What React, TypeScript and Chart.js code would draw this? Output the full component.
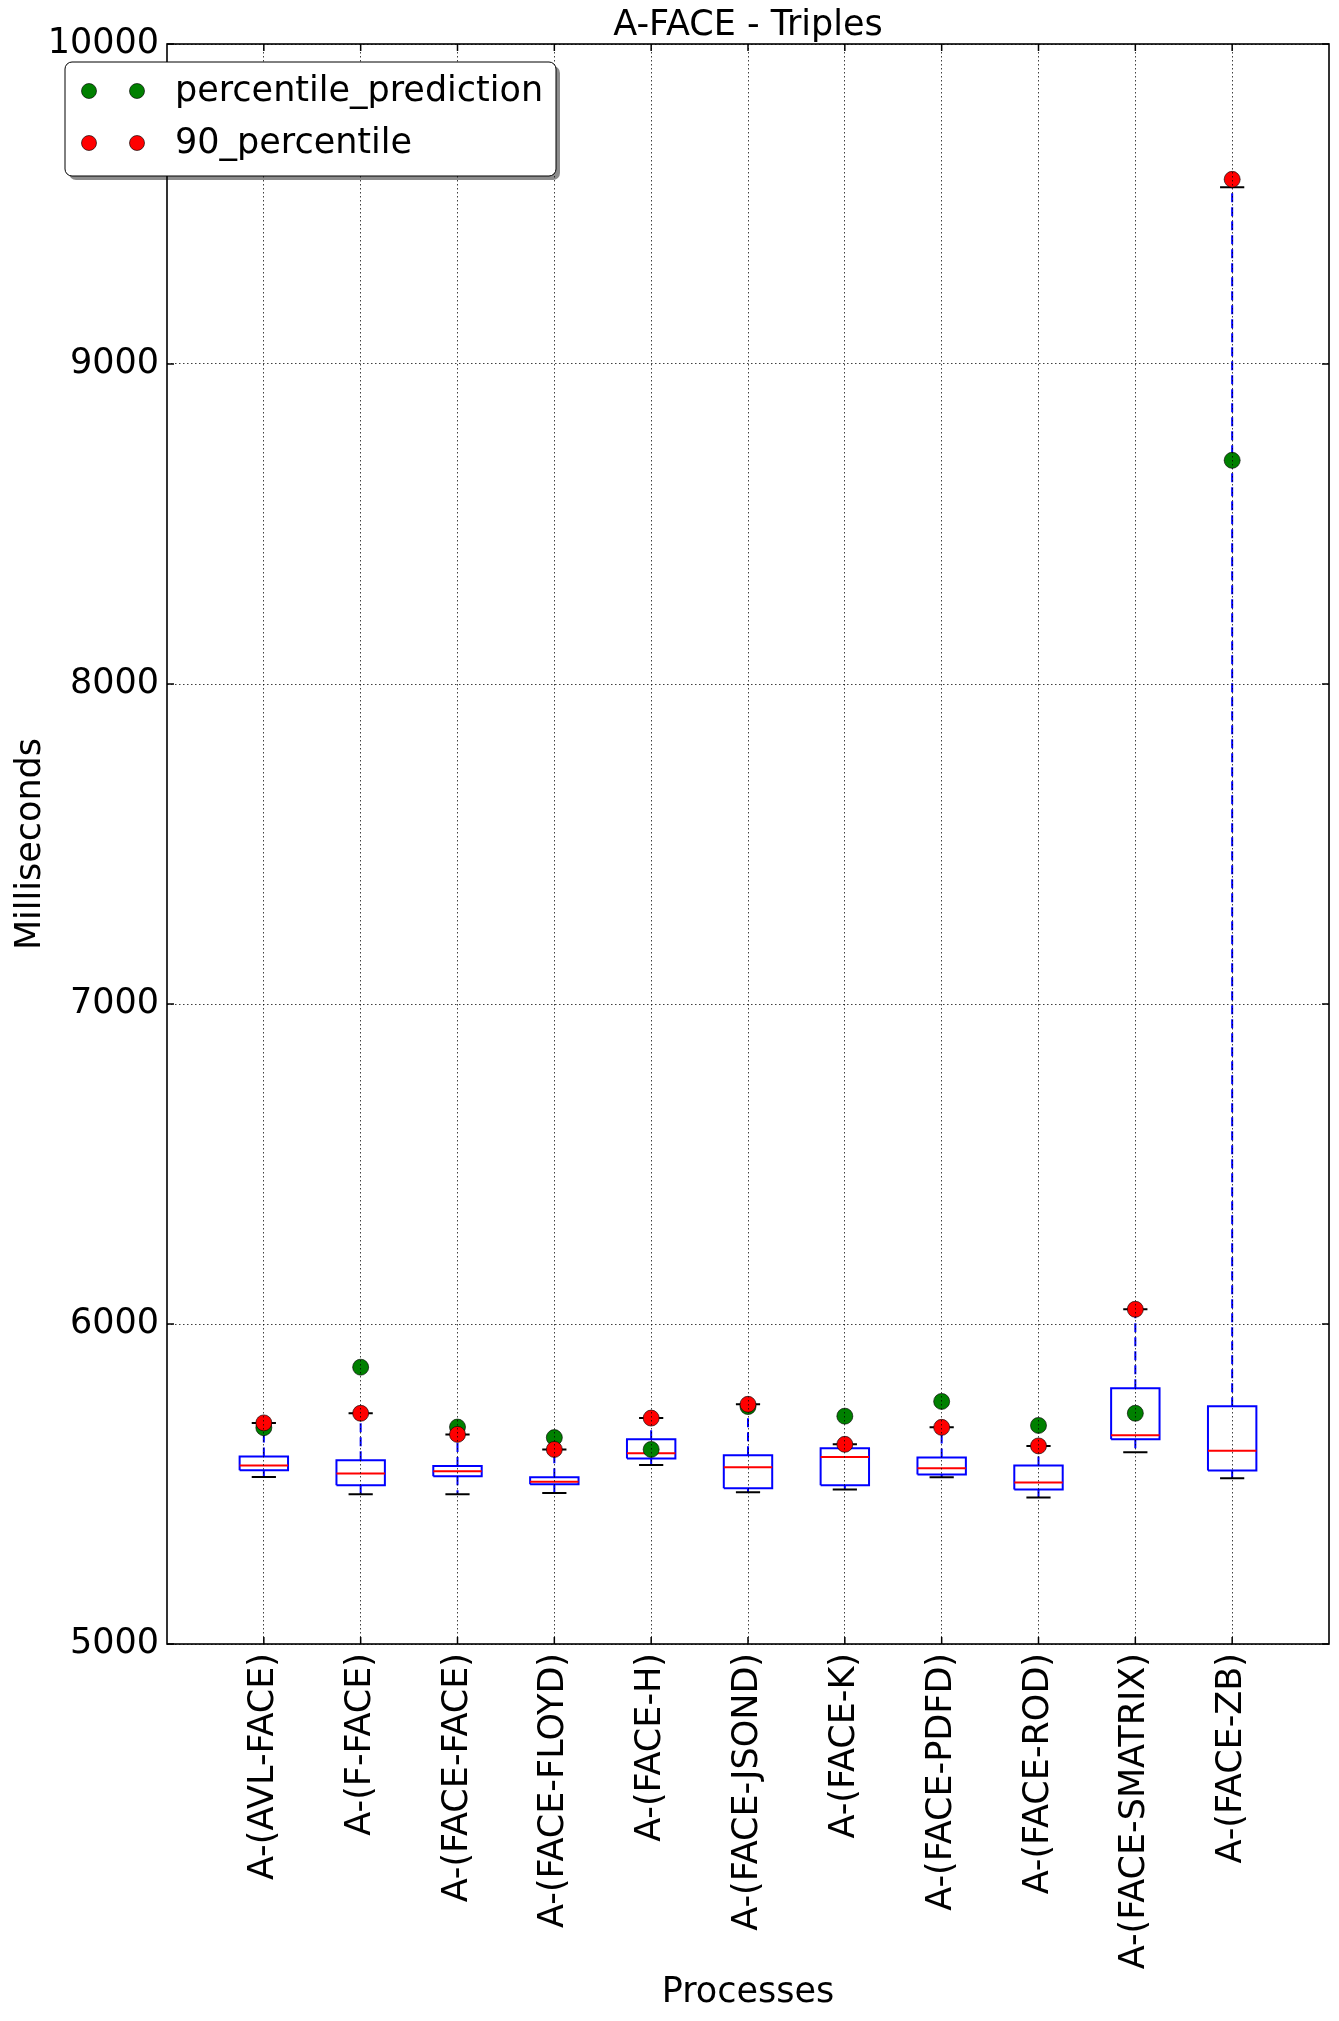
import React, { useEffect, useRef } from 'react';
import { Chart, registerables } from 'chart.js';

Chart.register(...registerables);

// ---------------- data ----------------
const categories = [
  'A-(AVL-FACE)',
  'A-(F-FACE)',
  'A-(FACE-FACE)',
  'A-(FACE-FLOYD)',
  'A-(FACE-H)',
  'A-(FACE-JSOND)',
  'A-(FACE-K)',
  'A-(FACE-PDFD)',
  'A-(FACE-ROD)',
  'A-(FACE-SMATRIX)',
  'A-(FACE-ZB)',
];
const whiskerLow = [5522, 5468, 5468, 5472, 5559, 5474, 5483, 5521, 5458, 5599, 5518];
const q1 = [5543, 5496, 5524, 5499, 5580, 5487, 5496, 5530, 5483, 5640, 5542];
const median = [5558, 5533, 5540, 5507, 5596, 5552, 5584, 5549, 5505, 5652, 5604];
const q3 = [5586, 5574, 5556, 5521, 5640, 5590, 5612, 5583, 5558, 5799, 5743];
const whiskerHigh = [5691, 5721, 5655, 5608, 5706, 5749, 5624, 5677, 5619, 6046, 9552];
const percentile90 = [5691, 5721, 5655, 5608, 5706, 5749, 5624, 5677, 5619, 6046, 9577];
const percentilePrediction = [5676, 5865, 5678, 5645, 5608, 5742, 5712, 5758, 5683, 5721, 8699];
const yTicks = [5000, 6000, 7000, 8000, 9000, 10000];
const titleText = 'A-FACE - Triples';
const xLabel = 'Processes';
const yLabel = 'Milliseconds';
const legendLabels = ['percentile_prediction', '90_percentile'];

const FONT = '"DejaVu Sans", "Liberation Sans", sans-serif';
const FS = 35;
const W = 1339;
const H = 2021;

function roundRect(ctx: CanvasRenderingContext2D, x: number, y: number, w: number, h: number, r: number) {
  ctx.beginPath();
  ctx.moveTo(x + r, y);
  ctx.lineTo(x + w - r, y);
  ctx.arcTo(x + w, y, x + w, y + r, r);
  ctx.lineTo(x + w, y + h - r);
  ctx.arcTo(x + w, y + h, x + w - r, y + h, r);
  ctx.lineTo(x + r, y + h);
  ctx.arcTo(x, y + h, x, y + h - r, r);
  ctx.lineTo(x, y + r);
  ctx.arcTo(x, y, x + r, y, r);
  ctx.closePath();
}

const framePlugin = {
  id: 'mplFrame',
  afterDraw(chart: any) {
    const { ctx, chartArea } = chart;
    const xs = chart.scales.x;
    const ys = chart.scales.y;
    ctx.save();
    ctx.strokeStyle = '#000';
    ctx.lineWidth = 1.5;
    const tl = 7;
    ctx.beginPath();
    categories.forEach((_, i) => {
      const px = xs.getPixelForValue(i + 1);
      ctx.moveTo(px, chartArea.bottom);
      ctx.lineTo(px, chartArea.bottom - tl);
      ctx.moveTo(px, chartArea.top);
      ctx.lineTo(px, chartArea.top + tl);
    });
    yTicks.forEach((v) => {
      const py = ys.getPixelForValue(v);
      ctx.moveTo(chartArea.left, py);
      ctx.lineTo(chartArea.left + tl, py);
      ctx.moveTo(chartArea.right, py);
      ctx.lineTo(chartArea.right - tl, py);
    });
    ctx.stroke();
    ctx.lineWidth = 1.6;
    ctx.strokeRect(chartArea.left, chartArea.top, chartArea.right - chartArea.left, chartArea.bottom - chartArea.top);
    ctx.restore();
  },
};

const legendPlugin = {
  id: 'mplLegend',
  afterDraw(chart: any) {
    const ctx: CanvasRenderingContext2D = chart.ctx;
    const x = 65, y = 62, w = 491, h = 114, r = 7;
    ctx.save();
    ctx.fillStyle = 'rgba(0,0,0,0.45)';
    roundRect(ctx, x + 4, y + 4, w, h, r);
    ctx.fill();
    ctx.fillStyle = '#fff';
    roundRect(ctx, x, y, w, h, r);
    ctx.fill();
    ctx.strokeStyle = '#000';
    ctx.lineWidth = 1;
    ctx.stroke();
    const entries = [
      { label: legendLabels[0], color: '#008000', ry: 91 },
      { label: legendLabels[1], color: '#ff0000', ry: 143 },
    ];
    entries.forEach((e) => {
      [89, 137].forEach((mx) => {
        ctx.beginPath();
        ctx.arc(mx, e.ry, 7.5, 0, Math.PI * 2);
        ctx.fillStyle = e.color;
        ctx.fill();
        ctx.strokeStyle = 'rgba(0,0,0,0.8)';
        ctx.lineWidth = 0.8;
        ctx.stroke();
      });
      ctx.fillStyle = '#000';
      ctx.font = `${FS}px ${FONT}`;
      ctx.textAlign = 'left';
      ctx.textBaseline = 'middle';
      ctx.fillText(e.label, 175, e.ry + 1);
    });
    ctx.restore();
  },
};

export default function App() {
  const ref = useRef<HTMLCanvasElement>(null);

  useEffect(() => {
    document.body.style.margin = '0';
    document.body.style.overflow = 'hidden';
    const canvas = ref.current;
    if (!canvas) return;

    const boxPts: any[] = [];
    const medPts: any[] = [];
    const capPts: any[] = [];
    const whiskPts: any[] = [];
    categories.forEach((_, i) => {
      const p = i + 1;
      boxPts.push(
        { x: p - 0.25, y: q1[i] },
        { x: p + 0.25, y: q1[i] },
        { x: p + 0.25, y: q3[i] },
        { x: p - 0.25, y: q3[i] },
        { x: p - 0.25, y: q1[i] },
        { x: p, y: null },
      );
      medPts.push({ x: p - 0.25, y: median[i] }, { x: p + 0.25, y: median[i] }, { x: p, y: null });
      capPts.push(
        { x: p - 0.125, y: whiskerLow[i] },
        { x: p + 0.125, y: whiskerLow[i] },
        { x: p, y: null },
        { x: p - 0.125, y: whiskerHigh[i] },
        { x: p + 0.125, y: whiskerHigh[i] },
        { x: p, y: null },
      );
      whiskPts.push(
        { x: p, y: q3[i] },
        { x: p, y: whiskerHigh[i] },
        { x: p + 0.001, y: null },
        { x: p, y: q1[i] },
        { x: p, y: whiskerLow[i] },
        { x: p + 0.001, y: null },
      );
    });

    const lineDs = (label: string, data: any[], color: string, width: number, dash: number[] = []) => ({
      type: 'scatter' as const,
      label,
      data,
      showLine: true,
      borderColor: color,
      backgroundColor: color,
      borderWidth: width,
      borderDash: dash,
      pointRadius: 0,
      pointHoverRadius: 0,
      fill: false,
      spanGaps: false,
      tension: 0,
    });

    const chart = new Chart(canvas, {
      type: 'scatter',
      data: {
        datasets: [
          {
            label: legendLabels[1],
            data: percentile90.map((v, i) => ({ x: i + 1, y: v })),
            backgroundColor: '#ff0000',
            borderColor: 'rgba(0,0,0,0.8)',
            borderWidth: 0.8,
            pointRadius: 8,
            pointHoverRadius: 8,
          },
          {
            label: legendLabels[0],
            data: percentilePrediction.map((v, i) => ({ x: i + 1, y: v })),
            backgroundColor: '#008000',
            borderColor: 'rgba(0,0,0,0.8)',
            borderWidth: 0.8,
            pointRadius: 8,
            pointHoverRadius: 8,
          },
          lineDs('median', medPts, '#ff0000', 2),
          lineDs('caps', capPts, '#000000', 2),
          lineDs('whiskers', whiskPts, '#0000ff', 2, [9, 5]),
          lineDs('boxes', boxPts, '#0000ff', 2),
        ] as any,
      },
      options: {
        animation: false,
        responsive: false,
        devicePixelRatio: 1,
        events: [],
        layout: { padding: { left: 0, right: 10, top: 0, bottom: 0 } },
        plugins: {
          legend: { display: false },
          tooltip: { enabled: false },
          title: {
            display: true,
            text: titleText,
            fullSize: false,
            color: '#000',
            font: { family: FONT, size: FS, weight: 'normal', lineHeight: 1 },
            padding: { top: 8, bottom: 1 },
          },
        },
        scales: {
          x: {
            type: 'linear',
            min: 0,
            max: 12,
            afterBuildTicks: (scale: any) => {
              scale.ticks = categories.map((_, i) => ({ value: i + 1 }));
            },
            afterFit: (scale: any) => {
              scale.height = H - 1644;
            },
            ticks: {
              autoSkip: false,
              minRotation: 90,
              maxRotation: 90,
              padding: 9,
              color: '#000',
              font: { family: FONT, size: FS },
              callback: (v: any) => categories[Math.round(Number(v)) - 1] ?? '',
            },
            grid: {
              display: true,
              drawTicks: false,
              color: 'rgba(0,0,0,0.75)',
              lineWidth: 1,
              z: 1,
            },
            border: { display: false, dash: [1.5, 2.5] },
            title: {
              display: true,
              text: xLabel,
              color: '#000',
              font: { family: FONT, size: FS, lineHeight: 1 },
              padding: { top: 0, bottom: 11 },
            },
          },
          y: {
            type: 'linear',
            min: 5000,
            max: 10000,
            afterBuildTicks: (scale: any) => {
              scale.ticks = yTicks.map((v) => ({ value: v }));
            },
            afterFit: (scale: any) => {
              scale.width = 167;
            },
            ticks: {
              padding: 8,
              color: '#000',
              font: { family: FONT, size: FS },
              callback: (v: any) => String(v),
            },
            grid: {
              display: true,
              drawTicks: false,
              color: 'rgba(0,0,0,0.75)',
              lineWidth: 1,
              z: 1,
            },
            border: { display: false, dash: [1.5, 2.5] },
            title: {
              display: true,
              text: yLabel,
              color: '#000',
              font: { family: FONT, size: FS, lineHeight: 1 },
              padding: { top: 13, bottom: 0 },
            },
          },
        },
      } as any,
      plugins: [framePlugin, legendPlugin],
    });

    return () => {
      chart.destroy();
    };
  }, []);

  return (
    <div style={{ width: W, height: H, background: '#fff' }}>
      <canvas ref={ref} width={W} height={H} style={{ display: 'block', width: W, height: H }} />
    </div>
  );
}
